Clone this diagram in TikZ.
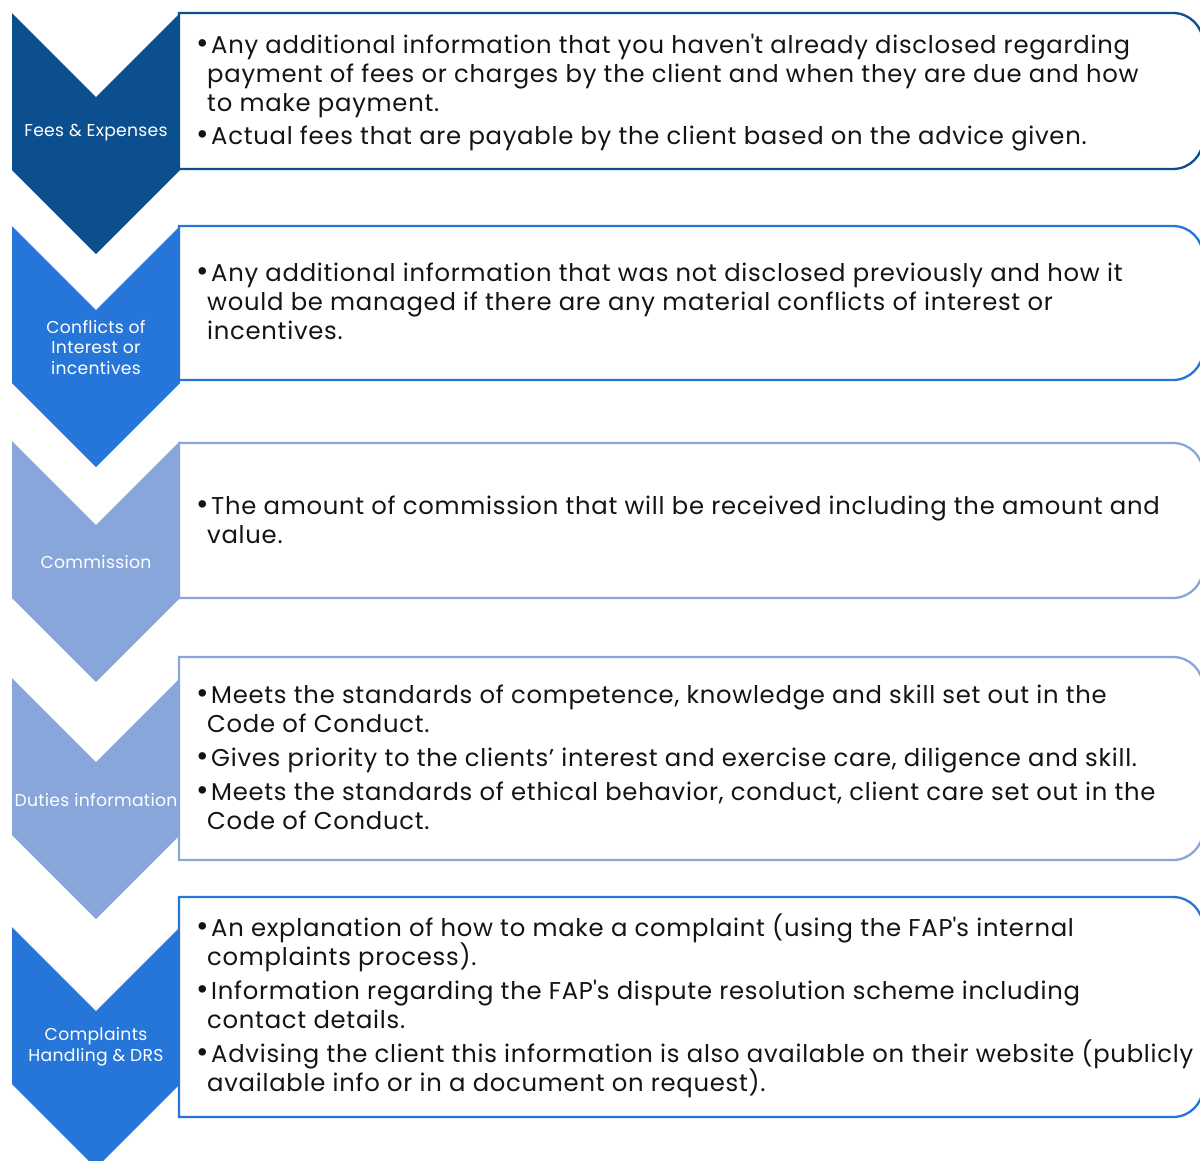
\documentclass[tikz,border=0pt]{standalone}
\usepackage{fontspec}
\setmainfont{Poppins}[LetterSpace=3.0]
\newfontfamily\labelfont{Poppins}[LetterSpace=1.7]
\definecolor{stepdark}{HTML}{0C4F8F}
\definecolor{stepmid}{HTML}{2675D9}
\definecolor{steplight}{HTML}{88A6DA}
\definecolor{bodytext}{HTML}{141414}
\begin{document}
\begin{tikzpicture}[x=1pt,y=-1pt,
  infobox/.style={line width=2.3pt, fill=white},
  steplabel/.style={text=white, align=center, font=\labelfont\fontsize{17.2}{20.5}\selectfont, inner sep=0pt},
  bodyline/.style={anchor=base west, text=bodytext, inner sep=0pt, font=\fontsize{24.3}{29}\selectfont},
]
\useasboundingbox (0,0) rectangle (1200,1160);
\clip (0,0) rectangle (1200,1160);

% chevrons: top y, side length 157, 45-degree notch and tip
\newcommand\chevron[2]{%
  \fill[#2] (12,#1) -- (96,#1+84) -- (180,#1) -- (180,#1+157) -- (96,#1+241) -- (12,#1+157) -- cycle;}
\chevron{13}{stepdark}
\chevron{226}{stepmid}
\chevron{441}{steplight}
\chevron{678}{steplight}
\chevron{927}{stepmid}

% text boxes, rounded on the right only
\newcommand\infopanel[3]{%
  \draw[infobox, draw=#3] (179,#1) -- (1173,#1) arc[start angle=90, end angle=0, radius=30pt]
    -- (1203,#2-30) arc[start angle=0, end angle=-90, radius=30pt] -- (179,#2) -- cycle;}
\infopanel{13}{169}{stepdark}
\infopanel{226}{380}{stepmid}
\infopanel{443}{598}{steplight}
\infopanel{657}{860}{steplight}
\infopanel{897}{1117}{stepmid}

% step labels
\node[steplabel] (l1) at (96,133) {Fees \& Expenses};
\node[steplabel] (l2) at (96,347) {Conflicts of\\Interest or\\incentives};
\node[steplabel] (l3) at (96,562) {Commission};
\node[steplabel] (l4) at (96,800) {Duties information};
\node[steplabel] (l5) at (96,1047) {Complaints\\Handling \& DRS};

\newcommand\bul{\llap{\scalebox{1.25}{\textbullet}\hspace{2pt}}}
\newcommand\ap{\textquotesingle}

% box 1
\node[bodyline] (a1) at (211,53) {\bul Any additional information that you haven\ap t already disclosed regarding};
\node[bodyline] (a2) at (207,82) {payment of fees or charges by the client and when they are due and how};
\node[bodyline] (a3) at (207,111) {to make payment.};
\node[bodyline] (a4) at (211,144) {\bul Actual fees that are payable by the client based on the advice given.};
% box 2
\node[bodyline] (b1) at (211,281) {\bul Any additional information that was not disclosed previously and how it};
\node[bodyline] (b2) at (207,310) {would be managed if there are any material conflicts of interest or};
\node[bodyline] (b3) at (207,339) {incentives.};
% box 3
\node[bodyline] (c1) at (211,514) {\bul The amount of commission that will be received including the amount and};
\node[bodyline] (c2) at (207,543) {value.};
% box 4
\node[bodyline] (d1) at (211,703) {\bul Meets the standards of competence, knowledge and skill set out in the};
\node[bodyline] (d2) at (207,732) {Code of Conduct.};
\node[bodyline] (d3) at (211,766) {\bul Gives priority to the clients’ interest and exercise care, diligence and skill.};
\node[bodyline] (d4) at (211,800) {\bul Meets the standards of ethical behavior, conduct, client care set out in the};
\node[bodyline] (d5) at (207,829) {Code of Conduct.};
% box 5
\node[bodyline] (e1) at (211,936) {\bul An explanation of how to make a complaint (using the FAP\ap s internal};
\node[bodyline] (e2) at (207,965) {complaints process).};
\node[bodyline] (e3) at (211,999) {\bul Information regarding the FAP\ap s dispute resolution scheme including};
\node[bodyline] (e4) at (207,1028) {contact details.};
\node[bodyline] (e5) at (211,1062) {\bul Advising the client this information is also available on their website (publicly};
\node[bodyline] (e6) at (207,1091) {available info or in a document on request).};
\end{tikzpicture}
\end{document}
